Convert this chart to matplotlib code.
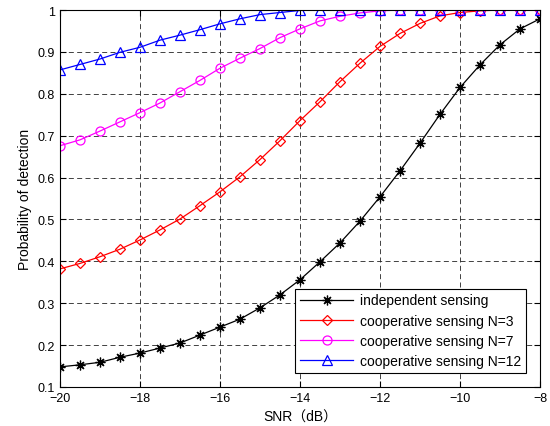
import numpy as np
import matplotlib
matplotlib.use("Agg")
import matplotlib.pyplot as plt

plt.rcParams['font.family'] = ['Liberation Sans', 'Noto Sans CJK SC', 'DejaVu Sans']

snr = np.arange(-20, -7.9, 0.5)

p_single = [0.148, 0.153, 0.159, 0.171, 0.181, 0.193, 0.205, 0.224, 0.243, 0.262,
            0.289, 0.320, 0.356, 0.399, 0.444, 0.496, 0.554, 0.616, 0.682, 0.751,
            0.815, 0.869, 0.917, 0.955, 0.979]
p_n3 = [0.382, 0.395, 0.411, 0.429, 0.451, 0.475, 0.501, 0.533, 0.566, 0.602,
        0.643, 0.688, 0.736, 0.781, 0.829, 0.873, 0.913, 0.944, 0.968, 0.986,
        0.994, 0.998, 1.0, 1.0, 1.0]
p_n7 = [0.676, 0.690, 0.711, 0.733, 0.755, 0.778, 0.805, 0.832, 0.861, 0.885,
        0.908, 0.934, 0.955, 0.974, 0.985, 0.993, 0.998, 1.0, 1.0, 1.0,
        1.0, 1.0, 1.0, 1.0, 1.0]
p_n12 = [0.857, 0.870, 0.883, 0.899, 0.911, 0.928, 0.940, 0.953, 0.967, 0.979,
         0.989, 0.994, 0.999, 1.0, 1.0, 1.0, 1.0, 1.0, 1.0, 1.0,
         1.0, 1.0, 1.0, 1.0, 1.0]

labels = ['independent sensing', 'cooperative sensing N=3',
          'cooperative sensing N=7', 'cooperative sensing N=12']

fig = plt.figure(figsize=(5.5, 4.27), dpi=100)
ax = fig.add_axes([60 / 550, 1 - 388 / 427, 480 / 550, 377 / 427])

# matlab style '*' marker = 8 armed asterisk
ax.plot(snr, p_single, '-', marker=(8, 2, 0), color='k', lw=0.9, ms=7, mew=0.9, label=labels[0])
ax.plot(snr, p_n3, '-D', color='r', mfc='none', lw=0.9, ms=5.5, mew=0.9, label=labels[1])
ax.plot(snr, p_n7, '-o', color='#ff00ff', mfc='none', lw=0.9, ms=6.5, mew=0.9, label=labels[2])
ax.plot(snr, p_n12, '-^', color='b', mfc='none', lw=0.9, ms=7, mew=0.9, label=labels[3])

ax.set_xlim(-20, -8)
ax.set_ylim(0.1, 1)
ax.set_xticks(np.arange(-20, -7, 2))
ax.set_yticks(np.arange(0.1, 1.01, 0.1))
ax.set_yticklabels(['0.1', '0.2', '0.3', '0.4', '0.5', '0.6', '0.7', '0.8', '0.9', '1'])
ax.grid(True, color='#222222', linestyle=(0, (6, 4)), linewidth=0.6)
ax.tick_params(direction='in', labelsize=9, length=4)
ax.tick_params(top=True, right=True)

ax.set_xlabel('SNR（dB）', fontsize=10)
ax.set_ylabel('Probability of detection', fontsize=10)

leg = ax.legend(loc='lower right', fontsize=10, fancybox=False, edgecolor='k',
                framealpha=1, borderaxespad=1.0, handlelength=3.8,
                labelspacing=0.45, borderpad=0.35, handletextpad=0.5)
leg.get_frame().set_linewidth(0.8)

fig.savefig('out.png', dpi=100, facecolor='white')
